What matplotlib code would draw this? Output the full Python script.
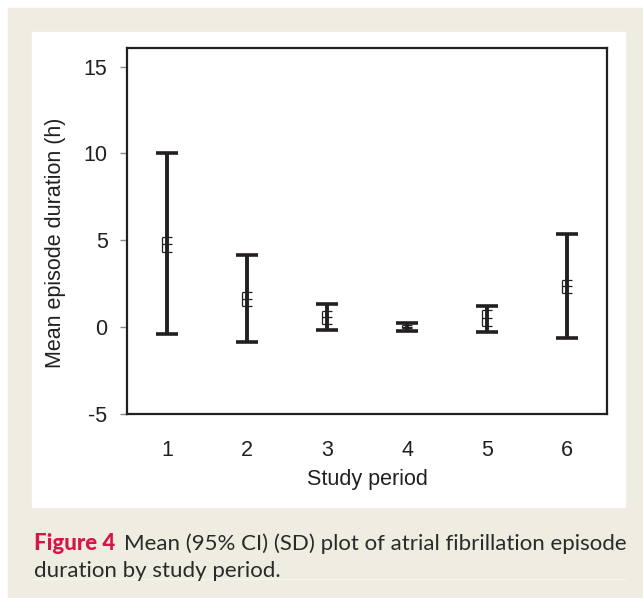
import matplotlib
matplotlib.use("Agg")
import matplotlib.pyplot as plt
from matplotlib.patches import Rectangle
from matplotlib.lines import Line2D

# -----------------------------
# Daten
# -----------------------------
periods = [1, 2, 3, 4, 5, 6]
means = [4.77, 1.62, 0.57, 0.03, 0.53, 2.39]
sd_upper = [10.0, 4.15, 1.32, 0.22, 1.23, 5.38]
sd_lower = [-0.41, -0.84, -0.16, -0.20, -0.30, -0.64]
ci_upper = [5.19, 2.04, 0.95, 0.10, 0.99, 2.71]
ci_lower = [4.33, 1.23, 0.16, -0.05, 0.08, 1.95]
yticks = [-5, 0, 5, 10, 15]

ink = "#231f20"
beige = "#efece1"
pink = "#d7154a"

plt.rcParams["font.family"] = ["Liberation Sans", "DejaVu Sans"]
plt.rcParams["axes.unicode_minus"] = False

fig = plt.figure(figsize=(6.43, 5.98), dpi=100)
fig.patch.set_facecolor("white")

# Hintergrund: beiger Rahmen + weisses Feld
fig.patches.append(Rectangle((8 / 643, 0), 1 - 8 / 643, 590 / 598,
                             transform=fig.transFigure, color=beige, zorder=-10))
fig.patches.append(Rectangle((32 / 643, 1 - 507 / 598), 593 / 643, 475 / 598,
                             transform=fig.transFigure, color="white", zorder=-9))
fig.lines.append(Line2D([33 / 643, 625 / 643], [1 - 579 / 598, 1 - 579 / 598],
                        transform=fig.transFigure, color="#f8f6f0", lw=1, zorder=-8))

ax = fig.add_axes([127 / 643, 1 - 414 / 598, 480 / 643, 366 / 598])

# SD-Balken mit Kappen
lo = [m - l for m, l in zip(means, sd_lower)]
hi = [u - m for m, u in zip(means, sd_upper)]
ax.errorbar(periods, means, yerr=[lo, hi], fmt="none", ecolor=ink,
            elinewidth=2.8, capsize=7.6, capthick=2.6, zorder=3)

# 95%-KI als kleines "E"
off = 0.065
for x, m, cl, cu in zip(periods, means, ci_lower, ci_upper):
    ax.vlines(x - off, cl, cu, color=ink, lw=0.9, zorder=4)
    ax.hlines([cl, m, cu], x - off, x + off * 0.9, color=ink, lw=0.9, zorder=4)

ax.set_xlim(0.5, 6.5)
ax.set_ylim(-5, 16.07)
ax.set_xticks(periods)
ax.set_yticks(yticks)
ax.tick_params(axis="x", length=0, pad=18.5, labelsize=15.5, labelcolor=ink)
ax.tick_params(axis="y", length=5, width=1, color="#8a8a8a", pad=9,
               labelsize=15.5, labelcolor=ink)
for s in ax.spines.values():
    s.set_linewidth(1.6)
    s.set_color(ink)

ax.set_xlabel("Study period", fontsize=15.5, color=ink)
ax.set_ylabel("Mean episode duration (h)", fontsize=15.5, color=ink)
ax.xaxis.set_label_coords(0.5, -0.18)
ax.xaxis.label.set_va("center")
ax.yaxis.set_label_coords(-0.148, 0.467)
ax.yaxis.label.set_va("center")

# Bildunterschrift
cap_font = ["Lato", "DejaVu Sans"]
t1 = fig.text(34 / 643, 1 - 550.5 / 598, "Figure 4", fontsize=16,
              fontweight=900, color=pink, family=cap_font, va="baseline")
plt.annotate("Mean (95% CI) (SD) plot of atrial fibrillation episode",
             xy=(1, 0), xycoords=t1, xytext=(6, 0), textcoords="offset points",
             fontsize=16, color="#2a2a2a", family=cap_font,
             va="bottom", annotation_clip=False)
fig.text(34 / 643, 1 - 577 / 598, "duration by study period.", fontsize=16,
         color="#2a2a2a", family=cap_font, va="baseline")

fig.savefig("out.png", dpi=100)
